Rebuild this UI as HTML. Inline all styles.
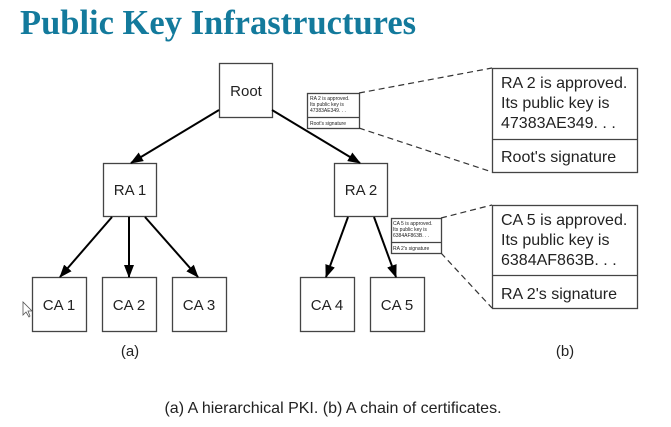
<!DOCTYPE html>
<html><head><meta charset="utf-8"><style>
html,body{margin:0;padding:0;background:#fff;}
svg{display:block;}
</style></head><body>
<svg width="671" height="427" viewBox="0 0 671 427" xmlns="http://www.w3.org/2000/svg">
<defs>
<marker id="ah" markerWidth="13" markerHeight="10" refX="12" refY="5" orient="auto" markerUnits="userSpaceOnUse">
<path d="M0,0 L13,5 L0,10 z" fill="#000"/></marker>
</defs>
<text x="20" y="34" font-family="Liberation Serif, serif" font-weight="bold" font-size="34.5" fill="#137a9c">Public Key Infrastructures</text>
<g fill="#fff" stroke="#444" stroke-width="1.3">
<rect x="219.5" y="63.5" width="53" height="54"/>
<rect x="103.5" y="163.5" width="53" height="53"/>
<rect x="334.5" y="163.5" width="53" height="53"/>
<rect x="32.5" y="277.5" width="54" height="54"/>
<rect x="102.5" y="277.5" width="54" height="54"/>
<rect x="172.5" y="277.5" width="54" height="54"/>
<rect x="300.5" y="277.5" width="54" height="54"/>
<rect x="370.5" y="277.5" width="54" height="54"/>
<rect x="492.5" y="68.5" width="145" height="104"/>
<rect x="492.5" y="205.5" width="145" height="103"/>
<rect x="307.5" y="93.5" width="52" height="35"/>
<rect x="391.5" y="218.5" width="50" height="35"/>
</g>
<g stroke="#444" stroke-width="1.2">
<line x1="492" y1="139.5" x2="637" y2="139.5"/>
<line x1="492" y1="275.5" x2="637" y2="275.5"/>
<line x1="307" y1="117.5" x2="359" y2="117.5"/>
<line x1="391" y1="242.5" x2="441" y2="242.5"/>
</g>
<g stroke="#333" stroke-width="1.2" stroke-dasharray="6,4" fill="none">
<line x1="359" y1="93" x2="492" y2="68"/>
<line x1="359" y1="128" x2="492" y2="172"/>
<line x1="441" y1="218" x2="492" y2="205"/>
<line x1="441" y1="253" x2="492" y2="308"/>
</g>
<g stroke="#000" stroke-width="2" marker-end="url(#ah)">
<line x1="219" y1="110" x2="131" y2="163"/>
<line x1="272" y1="110" x2="360" y2="163"/>
<line x1="112" y1="217" x2="60" y2="277"/>
<line x1="129" y1="217" x2="129" y2="277"/>
<line x1="145" y1="217" x2="198" y2="277"/>
<line x1="348" y1="217" x2="326" y2="277"/>
<line x1="374" y1="217" x2="396" y2="277"/>
</g>
<g font-family="Liberation Sans, sans-serif" font-size="15" fill="#222" text-anchor="middle">
<text x="246" y="96">Root</text>
<text x="130" y="195">RA 1</text>
<text x="361" y="195">RA 2</text>
<text x="59" y="310">CA 1</text>
<text x="129" y="310">CA 2</text>
<text x="199" y="310">CA 3</text>
<text x="327" y="310">CA 4</text>
<text x="397" y="310">CA 5</text>
<text x="130" y="356">(a)</text>
<text x="565" y="356">(b)</text>
<text x="333" y="413" font-size="16">(a) A hierarchical PKI. (b) A chain of certificates.</text>
</g>
<g font-family="Liberation Sans, sans-serif" font-size="16" fill="#222">
<text x="501" y="88">RA 2 is approved.</text>
<text x="501" y="108">Its public key is</text>
<text x="501" y="128">47383AE349. . .</text>
<text x="501" y="162">Root's signature</text>
<text x="501" y="225">CA 5 is approved.</text>
<text x="501" y="245">Its public key is</text>
<text x="501" y="265">6384AF863B. . .</text>
<text x="501" y="299">RA 2's signature</text>
</g>
<g font-family="Liberation Sans, sans-serif" font-size="5" fill="#222">
<text x="310" y="100">RA 2 is approved.</text>
<text x="310" y="106">Its public key is</text>
<text x="310" y="112">47383AE349. . .</text>
<text x="310" y="125">Root's signature</text>
<text x="393" y="225">CA 5 is approved.</text>
<text x="393" y="231">Its public key is</text>
<text x="393" y="237">6384AF863B. . .</text>
<text x="393" y="250">RA 2's signature</text>
</g>
<path d="M23,302 L23,315 L26,312 L29,317 L30,316 L28,311 L32,311 Z" fill="#fff" stroke="#555" stroke-width="0.8"/>
</svg>
</body></html>
